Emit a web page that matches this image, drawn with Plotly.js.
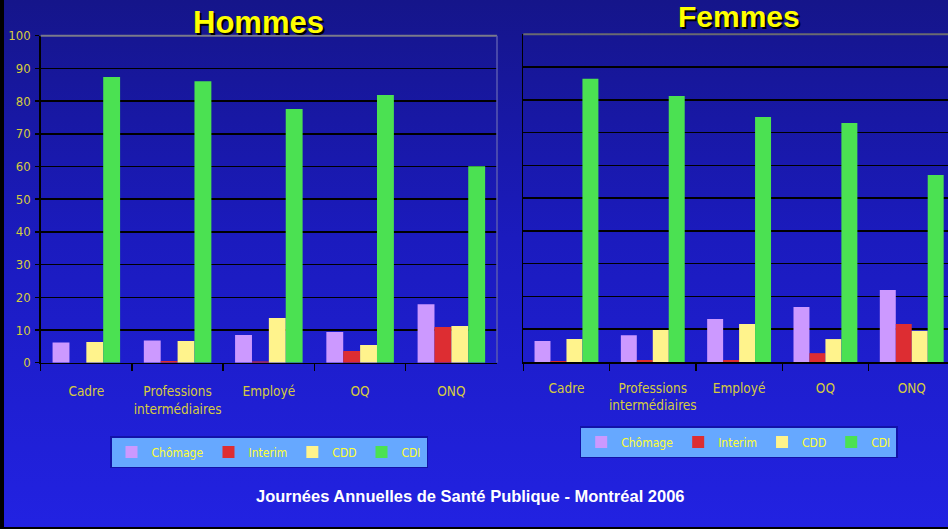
<!DOCTYPE html>
<html><head><meta charset="utf-8">
<script src="https://cdn.plot.ly/plotly-3.0.1.min.js"></script>
<style>
html,body{margin:0;padding:0;background:#1a1ab0;}
#wrap{position:relative;width:948px;height:529px;overflow:hidden;background:linear-gradient(to bottom,#15158A 0%,#1B1BBE 45%,#2222E2 100%);box-shadow:inset 4px -2px 0 #000;}
#chart{width:948px;height:529px;}
</style></head><body><div id="wrap"><div id="chart"></div></div>
<script>
const categories = ['Cadre', 'Professions<br>intermédiaires', 'Employé', 'OQ', 'ONQ'];
const seriesNames = ['Chômage', 'Interim', 'CDD', 'CDI'];
const seriesColors = ['#CC99FF', '#DD2D32', '#FFF38C', '#4BE152'];

const hommesChomage = [6.2, 6.8, 8.5, 9.4, 17.9];
const hommesInterim = [0, 0.5, 0.4, 3.6, 10.9];
const hommesCDD     = [6.3, 6.6, 13.7, 5.4, 11.2];
const hommesCDI     = [87.4, 86.1, 77.6, 81.9, 60.1];

const femmesChomage = [6.4, 8.2, 13.1, 16.8, 22.0];
const femmesInterim = [0.3, 0.6, 0.6, 2.7, 11.6];
const femmesCDD     = [7.0, 9.8, 11.6, 7.0, 9.5];
const femmesCDI     = [86.4, 81.2, 74.8, 72.9, 57.1];

const yTicks = [0, 10, 20, 30, 40, 50, 60, 70, 80, 90, 100];

const narrow = "'DejaVu Sans Condensed', 'Liberation Sans Narrow', 'Arial Narrow', sans-serif";
const bold = "'Liberation Sans', Arial, sans-serif";
const tickCol = '#D6CC3E';

const hommes = [hommesChomage, hommesInterim, hommesCDD, hommesCDI];
const femmes = [femmesChomage, femmesInterim, femmesCDD, femmesCDI];

const traces = [];
hommes.forEach((vals, i) => traces.push({
  type: 'bar', x: categories, y: vals, name: seriesNames[i],
  marker: {color: seriesColors[i], line: {width: 0}},
  xaxis: 'x', yaxis: 'y', legend: 'legend', hoverinfo: 'skip'
}));
femmes.forEach((vals, i) => traces.push({
  type: 'bar', x: categories, y: vals, name: seriesNames[i],
  marker: {color: seriesColors[i], line: {width: 0}},
  xaxis: 'x2', yaxis: 'y2', legend: 'legend2', hoverinfo: 'skip'
}));

const W = 948, H = 529;
const legendStyle = {
  orientation: 'h', bgcolor: '#66A8FF', bordercolor: '#1212A8', borderwidth: 1.5,
  font: {family: narrow, size: 12, color: '#FFFF33'},
  xanchor: 'center', yanchor: 'middle', itemwidth: 30, tracegroupgap: 0
};

const xCommon = {
  type: 'category', tickson: 'boundaries', ticks: 'outside', ticklen: 7, tickcolor: '#000', tickwidth: 1.5,
  showline: true, linecolor: '#000', linewidth: 1.5, showgrid: false, zeroline: false, tickangle: 0,
  tickfont: {family: narrow, size: 13.5, color: tickCol}, fixedrange: true
};
const yCommon = {
  range: [0, 100], tickvals: yTicks, showgrid: true, gridcolor: '#000', gridwidth: 1.5,
  showline: true, linecolor: '#000', linewidth: 1.5, zeroline: false, fixedrange: true
};

const layout = {
  width: W, height: H,
  margin: {l: 0, r: 0, t: 0, b: 0},
  paper_bgcolor: 'rgba(0,0,0,0)', plot_bgcolor: 'rgba(0,0,0,0)',
  barmode: 'group', bargap: 0.26, bargroupgap: 0,
  showlegend: true,
  xaxis: Object.assign({}, xCommon, {domain: [40.7 / W, 497 / W], range: [-0.5, 4.5], anchor: 'y', ticklabelstandoff: 16}),
  yaxis: Object.assign({}, yCommon, {domain: [1 - 362.7 / H, 1 - 35.7 / H], anchor: 'x',
    ticks: 'outside', ticklen: 4, tickcolor: '#000', tickwidth: 1.5, ticklabelstandoff: 2,
    tickfont: {family: narrow, size: 13, color: tickCol}}),
  xaxis2: Object.assign({}, xCommon, {domain: [523.3 / W, 1], range: [-0.5, 4.42], anchor: 'y2', ticklabelstandoff: 13}),
  yaxis2: Object.assign({}, yCommon, {domain: [1 - 362 / H, 1 - 34.3 / H], anchor: 'x2',
    ticks: '', showticklabels: false}),
  legend: Object.assign({}, legendStyle, {x: 269 / W, y: 1 - 452 / H}),
  legend2: Object.assign({}, legendStyle, {x: 738.7 / W, y: 1 - 442 / H}),
  shapes: [
    {type: 'line', xref: 'x domain', yref: 'y domain', x0: 0, x1: 1, y0: 1, y1: 1, line: {color: '#7A7A8A', width: 2}, layer: 'above'},
    {type: 'line', xref: 'x domain', yref: 'y domain', x0: 1, x1: 1, y0: 0, y1: 1, line: {color: '#5A5AB0', width: 1.5}, layer: 'above'},
    {type: 'line', xref: 'x2 domain', yref: 'y2 domain', x0: 0, x1: 1, y0: 1, y1: 1, line: {color: '#6A6A70', width: 2}, layer: 'above'}
  ],
  annotations: [
    {text: 'Hommes', xref: 'paper', yref: 'paper', x: 258.3 / W, y: 1 - 22.5 / H, xanchor: 'center', yanchor: 'middle', showarrow: false,
     font: {family: bold, size: 31, color: '#FFFF00', weight: 'bold', shadow: '2px 2px 0px #000'}},
    {text: 'Femmes', xref: 'paper', yref: 'paper', x: 739 / W, y: 1 - 17 / H, xanchor: 'center', yanchor: 'middle', showarrow: false,
     font: {family: bold, size: 30, color: '#FFFF00', weight: 'bold', shadow: '2px 2px 0px #000'}},
    {text: 'Journées Annuelles de Santé Publique - Montréal 2006', xref: 'paper', yref: 'paper', x: 470 / W, y: 1 - 496 / H,
     xanchor: 'center', yanchor: 'middle', showarrow: false,
     font: {family: bold, size: 16.5, color: '#FFFFFF', weight: 'bold'}}
  ]
};

Plotly.newPlot('chart', traces, layout, {displayModeBar: false, staticPlot: true});
</script></body></html>
